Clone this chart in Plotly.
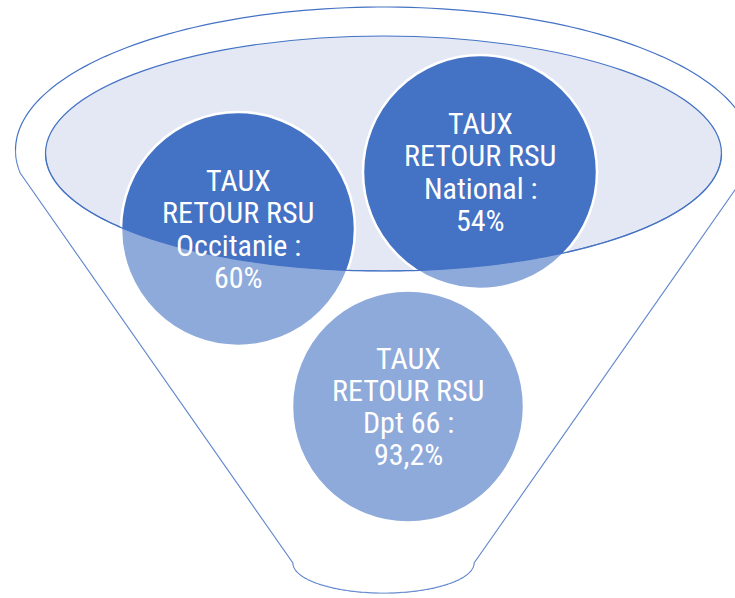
import numpy as np
import plotly.graph_objects as go

# ---- data ----
categories = ["Occitanie", "National", "Dpt 66"]
values = [60, 54, 93.2]
title_lines = ["TAUX", "RETOUR RSU"]

def fmt(v):
    s = ("%g" % v).replace(".", ",")
    return s + "%"

# ---- layout / geometry (diagram coordinates, pixels) ----
W, H = 735, 598
CX = 383.5
outer = dict(cy=150, rx=368, ry=143)
inner = dict(cy=153.5, rx=338, ry=117.5)
wall_top_y = 173
wall_bot = dict(y=563, x_half=90.5, ry=30)
circle_pos = {"Occitanie": (238, 229, 117), "National": (480, 172, 117), "Dpt 66": (408, 406.5, 116)}
BLUE = "#4472C4"
RIM_FILL = "#E3E8F4"
LINE_H = 32.3
FONT = "Liberation Sans Narrow, Roboto Condensed, Arial Narrow, sans-serif"
FONT_SIZE = 30

def ell_pts(cx, cy, rx, ry, t0, t1, n=120):
    t = np.linspace(t0, t1, n)
    return list(zip(cx + rx * np.cos(t), cy + ry * np.sin(t)))

def path(pts, close=False):
    s = "M " + " L ".join("%.2f,%.2f" % p for p in pts)
    return s + (" Z" if close else "")

# outer ellipse angle where wall starts (y axis points down)
a_wall = np.arcsin((wall_top_y - outer["cy"]) / outer["ry"])

# outline of the funnel: upper arc of outer ellipse, right wall, bottom arc, left wall
top_arc = ell_pts(CX, outer["cy"], outer["rx"], outer["ry"], np.pi - a_wall, 2 * np.pi + a_wall)
bottom_arc = ell_pts(CX, wall_bot["y"], wall_bot["x_half"], wall_bot["ry"], 0, np.pi)
funnel_outline = top_arc + bottom_arc + [top_arc[0]]

# front face (semi-transparent white): inner ellipse lower arc, outer sides, walls, bottom
inner_low_pts = ell_pts(CX, inner["cy"], inner["rx"], inner["ry"], np.pi, 0, 160)
right_side = ell_pts(CX, outer["cy"], outer["rx"], outer["ry"], 0, a_wall, 10)
left_side = ell_pts(CX, outer["cy"], outer["rx"], outer["ry"], np.pi - a_wall, np.pi, 10)
front = inner_low_pts + right_side + bottom_arc + left_side

shapes = []
shapes.append(dict(type="path", path=path(funnel_outline, True), line=dict(color=BLUE, width=1.2),
                   fillcolor="white", layer="above"))
shapes.append(dict(type="circle", x0=CX - inner["rx"], x1=CX + inner["rx"],
                   y0=inner["cy"] - inner["ry"], y1=inner["cy"] + inner["ry"],
                   fillcolor=RIM_FILL, line=dict(color=BLUE, width=1.2), layer="above"))
for c in categories:
    x, y, r = circle_pos[c]
    shapes.append(dict(type="circle", x0=x - r, x1=x + r, y0=y - r, y1=y + r,
                       fillcolor=BLUE, line=dict(color="white", width=2.5), layer="above"))
shapes.append(dict(type="path", path=path(front, True), fillcolor="rgba(255,255,255,0.4)",
                   line=dict(width=0), layer="above"))
shapes.append(dict(type="path", path=path(inner_low_pts), line=dict(color=BLUE, width=1.2), layer="above"))

annotations = []
for c, v in zip(categories, values):
    x, y, r = circle_pos[c]
    lines = title_lines + [c + " :", fmt(v)]
    for i, t in enumerate(lines):
        annotations.append(dict(x=x, y=y + (i - 1.5) * LINE_H, text=t, showarrow=False,
                                xref="x", yref="y", xanchor="center", yanchor="middle",
                                font=dict(family=FONT, size=FONT_SIZE, color="white")))

fig = go.Figure()
fig.add_trace(go.Scatter(x=[0, W], y=[0, H], mode="markers", marker=dict(opacity=0), hoverinfo="skip",
                         showlegend=False))
fig.update_layout(width=W, height=H, margin=dict(l=0, r=0, t=0, b=0),
                  paper_bgcolor="white", plot_bgcolor="white",
                  xaxis=dict(range=[0, W], visible=False, fixedrange=True),
                  yaxis=dict(range=[H, 0], visible=False, fixedrange=True),
                  shapes=shapes, annotations=annotations, showlegend=False)
fig.write_html("out.html", config=dict(displayModeBar=False),
               post_script="document.body.style.margin='0';document.body.style.overflow='hidden';")
